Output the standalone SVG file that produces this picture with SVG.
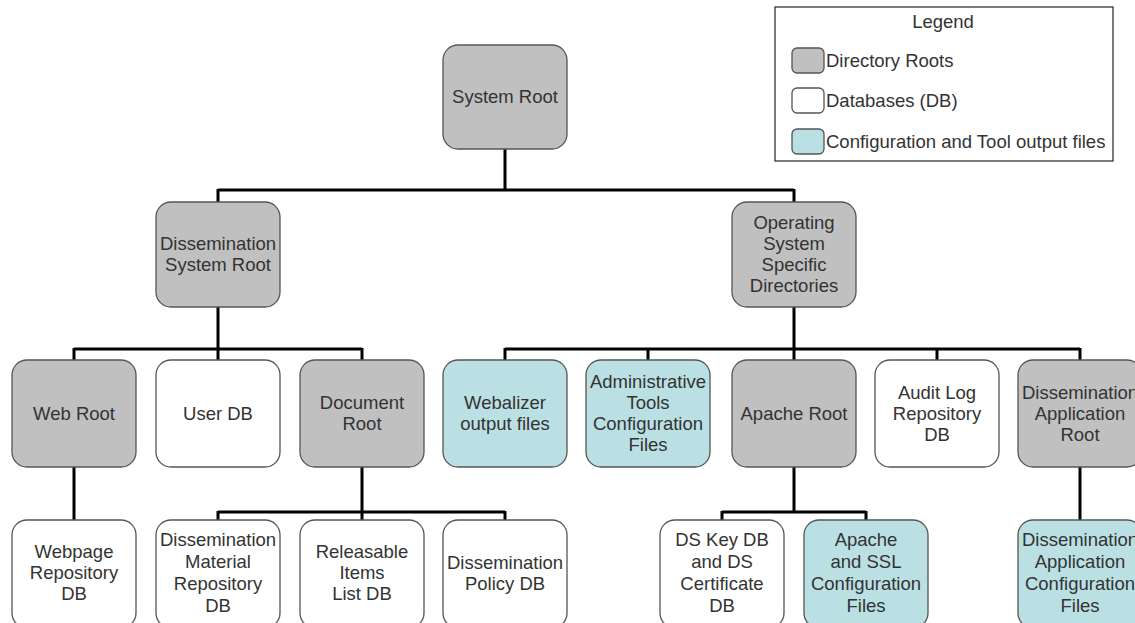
<svg xmlns="http://www.w3.org/2000/svg" width="1135" height="623" viewBox="0 0 1135 623">
<style>
.box{stroke:#555;stroke-width:1.3}
.dir{fill:#c0c0c0}
.db{fill:#ffffff}
.cfg{fill:#bae0e3}
text{font-family:"Liberation Sans",Arial,sans-serif;font-size:18.5px;fill:#333;text-anchor:middle}
.lg{text-anchor:start}
.conn{fill:none;stroke:#000;stroke-width:3}
</style>
<rect width="1135" height="623" fill="#fff"/>
<g id="legend">
<rect x="775" y="7" width="338" height="154" fill="#fff" stroke="#333" stroke-width="1.3"/>
<text x="943" y="28">Legend</text>
<rect class="box dir" x="792" y="48" width="32" height="25" rx="5"/>
<text class="lg" x="826" y="67">Directory Roots</text>
<rect class="box db" x="792" y="88" width="32" height="25" rx="5"/>
<text class="lg" x="826" y="107">Databases (DB)</text>
<rect class="box cfg" x="792" y="129" width="32" height="25" rx="5"/>
<text class="lg" x="826" y="148">Configuration and Tool output files</text>
</g>
<g id="connectors">
<path class="conn" d="M505,149V190M218,190H794M218,189V202M794,189V202"/>
<path class="conn" d="M218,307V349M74,349H362M74,348V360M218,348V360M362,348V360"/>
<path class="conn" d="M794,307V349M505,349H1080M505,348V360M648,348V360M794,348V360M937,348V360M1080,348V360"/>
<path class="conn" d="M74,467V520"/>
<path class="conn" d="M362,467V512M218,512H505M218,511V520M362,511V520M505,511V520"/>
<path class="conn" d="M794,467V512M722,512H866M722,511V520M866,511V520"/>
<path class="conn" d="M1080,467V520"/>
</g>
<g id="system-root">
<rect class="box dir" x="443" y="45" width="124" height="104" rx="15"/>
<text x="505" y="103">System Root</text>
</g>
<g id="dissemination-system-root">
<rect class="box dir" x="156" y="202" width="124" height="105" rx="15"/>
<text x="218" y="250">Dissemination</text>
<text x="218" y="271">System Root</text>
</g>
<g id="os-directories">
<rect class="box dir" x="732" y="202" width="124" height="105" rx="15"/>
<text x="794" y="229">Operating</text>
<text x="794" y="250">System</text>
<text x="794" y="271">Specific</text>
<text x="794" y="292">Directories</text>
</g>
<g id="web-root">
<rect class="box dir" x="12" y="360" width="124" height="107" rx="15"/>
<text x="74" y="420">Web Root</text>
</g>
<g id="user-db">
<rect class="box db" x="156" y="360" width="124" height="107" rx="15"/>
<text x="218" y="420">User DB</text>
</g>
<g id="document-root">
<rect class="box dir" x="300" y="360" width="124" height="107" rx="15"/>
<text x="362" y="409">Document</text>
<text x="362" y="430">Root</text>
</g>
<g id="webalizer">
<rect class="box cfg" x="443" y="360" width="124" height="107" rx="15"/>
<text x="505" y="409">Webalizer</text>
<text x="505" y="430">output files</text>
</g>
<g id="admin-tools">
<rect class="box cfg" x="586" y="360" width="124" height="107" rx="15"/>
<text x="648" y="388">Administrative</text>
<text x="648" y="409">Tools</text>
<text x="648" y="430">Configuration</text>
<text x="648" y="451">Files</text>
</g>
<g id="apache-root">
<rect class="box dir" x="732" y="360" width="124" height="107" rx="15"/>
<text x="794" y="420">Apache Root</text>
</g>
<g id="audit-log">
<rect class="box db" x="875" y="360" width="124" height="107" rx="15"/>
<text x="937" y="399">Audit Log</text>
<text x="937" y="420">Repository</text>
<text x="937" y="441">DB</text>
</g>
<g id="dissemination-app-root">
<rect class="box dir" x="1018" y="360" width="124" height="107" rx="15"/>
<text x="1080" y="399">Dissemination</text>
<text x="1080" y="420">Application</text>
<text x="1080" y="441">Root</text>
</g>
<g id="webpage-repository">
<rect class="box db" x="12" y="520" width="124" height="108" rx="15"/>
<text x="74" y="558">Webpage</text>
<text x="74" y="579">Repository</text>
<text x="74" y="600">DB</text>
</g>
<g id="material-repository">
<rect class="box db" x="156" y="520" width="124" height="108" rx="15"/>
<text x="218" y="546">Dissemination</text>
<text x="218" y="568">Material</text>
<text x="218" y="590">Repository</text>
<text x="218" y="612">DB</text>
</g>
<g id="releasable-items">
<rect class="box db" x="300" y="520" width="124" height="108" rx="15"/>
<text x="362" y="558">Releasable</text>
<text x="362" y="579">Items</text>
<text x="362" y="600">List DB</text>
</g>
<g id="policy-db">
<rect class="box db" x="443" y="520" width="124" height="108" rx="15"/>
<text x="505" y="569">Dissemination</text>
<text x="505" y="590">Policy DB</text>
</g>
<g id="ds-key-db">
<rect class="box db" x="660" y="520" width="124" height="108" rx="15"/>
<text x="722" y="546">DS Key DB</text>
<text x="722" y="568">and DS</text>
<text x="722" y="590">Certificate</text>
<text x="722" y="612">DB</text>
</g>
<g id="apache-ssl-config">
<rect class="box cfg" x="804" y="520" width="124" height="108" rx="15"/>
<text x="866" y="546">Apache</text>
<text x="866" y="568">and SSL</text>
<text x="866" y="590">Configuration</text>
<text x="866" y="612">Files</text>
</g>
<g id="dissemination-app-config">
<rect class="box cfg" x="1018" y="520" width="124" height="108" rx="15"/>
<text x="1080" y="546">Dissemination</text>
<text x="1080" y="568">Application</text>
<text x="1080" y="590">Configuration</text>
<text x="1080" y="612">Files</text>
</g>
</svg>
